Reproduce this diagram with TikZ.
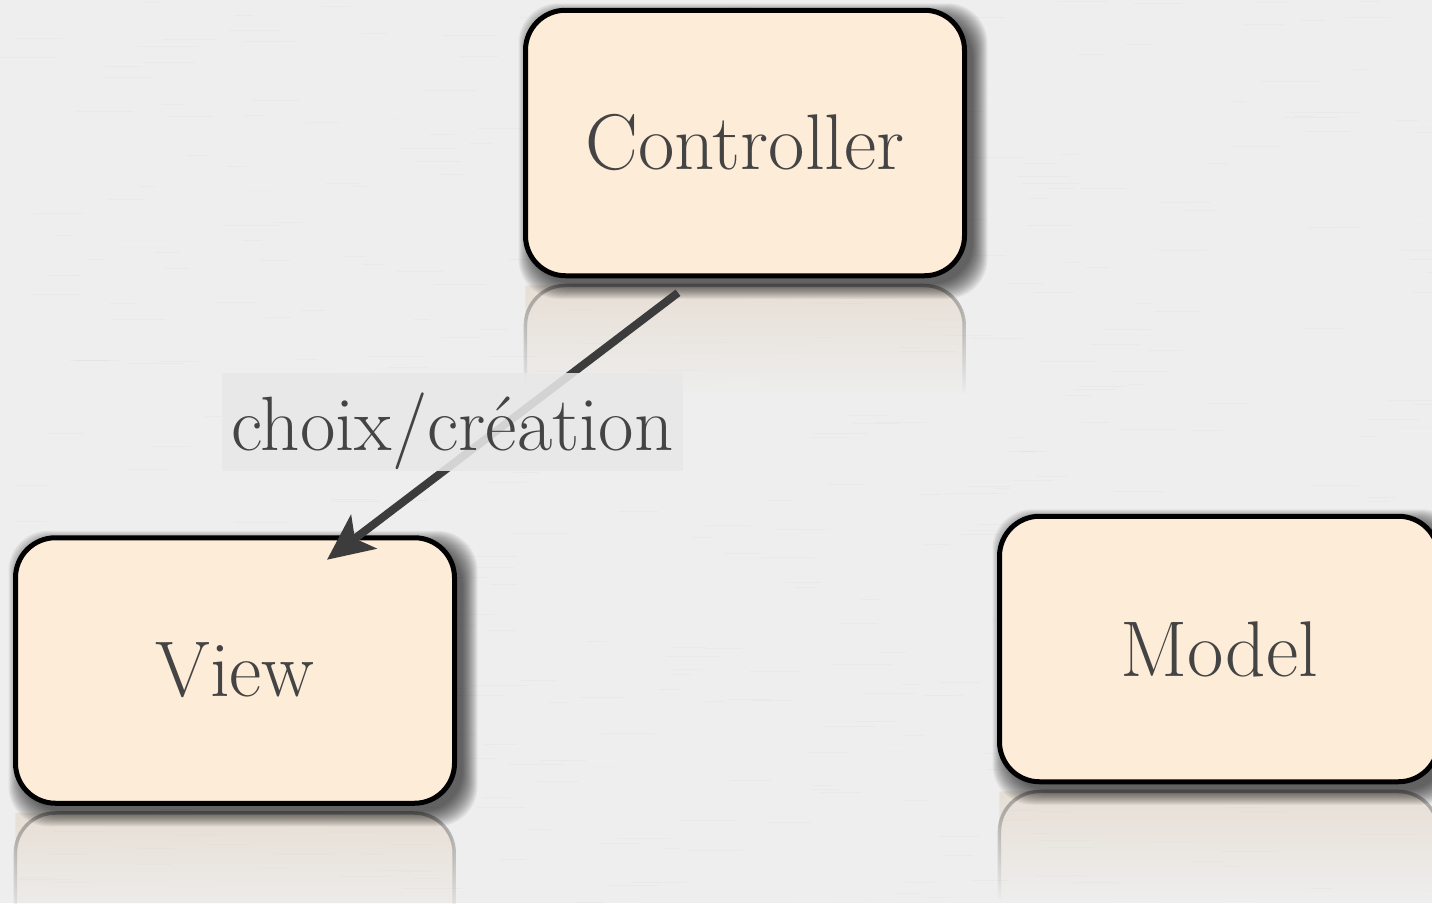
\documentclass[tikz,border=0pt]{standalone}
\usetikzlibrary{arrows.meta,fadings,calc}
\definecolor{bg}{HTML}{EEEEEE}
\definecolor{cream}{HTML}{FDECD7}
\definecolor{ink}{HTML}{444444}
\definecolor{wire}{HTML}{3C3C3C}
\definecolor{labelbg}{HTML}{E8E8E8}
\tikzfading[name=reflectfade, top color=transparent!45, bottom color=transparent!100]
\tikzset{
  mvcbox/.style={draw=black, line width=5pt, fill=cream, rectangle,
    rounded corners=40pt, minimum width=439pt, minimum height=265.5pt,
    inner sep=0pt, text=ink, font=\fontsize{79}{90}\selectfont},
  conn/.style={draw=wire, line width=8pt,
    -{Stealth[length=46pt, width=42pt, inset=11pt]}},
  lab/.style={fill=labelbg, fill opacity=0.88, text opacity=1, text=ink,
    minimum width=461pt, minimum height=98pt, inner sep=0pt, text depth=0pt,
    font=\fontsize{77}{90}\selectfont}
}
% box with its soft shadow and its mirror image below
\newcommand\mvcboxdraw[3]{%
  \begin{scope}[shift={#2}]
    \fill[cream!85!black!70!cream, path fading=reflectfade]
      (-219.5,250) -- (-219.5,142.5) [rounded corners=40pt] -- (219.5,142.5) [sharp corners] -- (219.5,250) -- cycle;
    \draw[line width=3.5pt, black!60, path fading=reflectfade, rounded corners=40pt]
      (-219.5,250) -- (-219.5,142.5) -- (219.5,142.5) -- (219.5,250);
    \foreach \i in {0,...,15}
      \fill[black, opacity=0.05, rounded corners=40pt]
        (-219.5+8-\i,-132.75+8-\i) rectangle (219.5+8+\i,132.75+8+\i);
  \end{scope}
  \node[mvcbox] (#1) at #2 {#3};
}
\begin{document}
\begin{tikzpicture}[x=1pt,y=-1pt]
  \useasboundingbox (0,0) rectangle (1432,903);
  \clip (0,0) rectangle (1432,903);
  \fill[bg] (0,0) rectangle (1432,903);
  % faint paper grain
  \pgfmathsetseed{11}
  \foreach \k in {1,...,900}{
    \pgfmathsetmacro\gx{rnd*1432}
    \pgfmathsetmacro\gy{rnd*903}
    \pgfmathsetmacro\gl{15+rnd*45}
    \pgfmathparse{rnd<0.5 ? "white" : "black!30"}
    \draw[\pgfmathresult, line width=1pt, opacity=0.08] (\gx,\gy) -- ++(\gl,0);
  }

  \mvcboxdraw{ctrl}{(745,143)}{Controller}
  \mvcboxdraw{view}{(235,670.5)}{View}
  \mvcboxdraw{model}{(1219,649)}{Model}

  \draw[conn] ($(ctrl.south)+(-67,14.5)$) --
    node[lab, xshift=-50pt, yshift=4.5pt] (choice) {choix/création}
    ($(view.north)+(92,24.5)$);
\end{tikzpicture}
\end{document}
